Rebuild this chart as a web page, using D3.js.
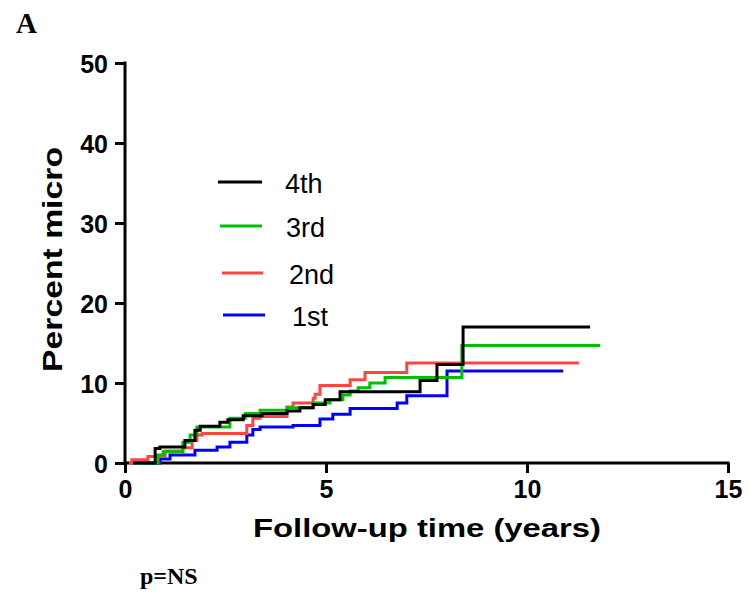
<!DOCTYPE html>
<html>
<head>
<meta charset="utf-8">
<script src="https://cdn.jsdelivr.net/npm/d3@7"></script>
<style>
  body { margin: 0; background: #fff; }
  svg text { font-family: "Liberation Sans", Arial, sans-serif; }
</style>
</head>
<body>
<svg id="chart" width="749" height="598"></svg>
<script>
// step curves: time (years) and percent after each step
const times4th = [0.2, 0.75, 0.87, 1.49, 1.74, 1.87, 2.36, 2.56, 2.94, 3.41, 4.03, 4.35, 4.68, 4.98, 5.35, 7.34, 7.76, 8.41, 11.57];
const vals4th  = [0, 1.8, 2.0, 2.8, 4.1, 4.6, 5.1, 5.4, 5.9, 6.2, 6.5, 6.9, 7.3, 7.9, 8.9, 10.3, 12.3, 17.0, 17.0];

const times3rd = [0.25, 0.82, 0.95, 1.44, 1.62, 1.79, 2.61, 2.99, 3.36, 4.03, 4.68, 5.1, 5.42, 5.6, 5.8, 6.09, 6.47, 8.38, 11.82];
const vals3rd  = [0, 1.0, 1.4, 2.6, 3.5, 4.5, 5.6, 6.2, 6.6, 6.9, 7.5, 7.9, 8.5, 9.0, 9.4, 10.0, 10.7, 14.7, 14.7];

const times2nd = [0.1, 0.17, 0.57, 1.0, 1.44, 1.67, 1.79, 1.92, 3.03, 3.18, 3.36, 4.03, 4.18, 4.68, 4.73, 4.85, 5.6, 5.97, 7.01, 11.29];
const vals2nd  = [0, 0.4, 0.8, 1.5, 1.9, 2.8, 3.5, 3.7, 4.7, 5.6, 5.8, 7.0, 7.5, 8.1, 8.6, 9.7, 10.4, 11.3, 12.5, 12.5];

const times1st = [0.42, 0.87, 1.12, 1.74, 2.29, 2.61, 3.03, 3.18, 3.36, 4.18, 4.85, 5.17, 5.6, 6.77, 7.01, 8.01, 10.9];
const vals1st  = [0, 0.5, 1.0, 1.6, 2.0, 2.6, 3.5, 4.2, 4.5, 4.7, 5.5, 6.1, 6.8, 7.5, 8.4, 11.5, 11.5];

const seriesNames  = ["4th", "3rd", "2nd", "1st"];
const seriesColors = ["#000000", "#00c000", "#ff4444", "#0000ff"];
const seriesTimes  = [times4th, times3rd, times2nd, times1st];
const seriesVals   = [vals4th, vals3rd, vals2nd, vals1st];

const xTicks = [0, 5, 10, 15];
const yTicks = [0, 10, 20, 30, 40, 50];

const svg = d3.select("#chart");

const x = d3.scaleLinear().domain([0, 15]).range([125, 728]);
const y = d3.scaleLinear().domain([0, 50]).range([463, 63]);

// axes
const xAxis = svg.append("g")
    .attr("transform", "translate(0,463)")
    .call(d3.axisBottom(x).tickValues(xTicks).tickSize(10).tickPadding(7).tickSizeOuter(0));
const yAxis = svg.append("g")
    .attr("transform", "translate(125,0)")
    .call(d3.axisLeft(y).tickValues(yTicks).tickSize(10).tickPadding(7).tickSizeOuter(0));

[xAxis, yAxis].forEach(a => {
    a.select(".domain").attr("stroke", "#000").attr("stroke-width", 3);
    a.selectAll(".tick line").attr("stroke", "#000").attr("stroke-width", 3);
    a.selectAll(".tick text")
        .attr("fill", "#000")
        .style("font-size", "25px")
        .style("font-weight", "bold")
        .style("font-family", "'Liberation Sans', Arial, sans-serif");
});
xAxis.selectAll(".tick text").attr("dy", "0.72em");
yAxis.selectAll(".tick text").attr("dy", "0.36em");
// stretch the axis lines over the tick width at the corners
xAxis.select(".domain").attr("d", "M" + (x(0) - 1.5) + ",0H" + (x(15) + 1.5));
yAxis.select(".domain").attr("d", "M0," + (y(0) + 1.5) + "V" + (y(50) - 1.5));

// curves
const line = d3.line()
    .x(d => x(d[0]))
    .y(d => y(d[1]))
    .curve(d3.curveStepAfter);

seriesNames.slice().reverse().forEach((name, k) => {
    const i = seriesNames.length - 1 - k;
    const pts = seriesTimes[i].map((t, j) => [t, seriesVals[i][j]]);
    svg.append("path")
        .datum(pts)
        .attr("d", line)
        .attr("fill", "none")
        .attr("stroke", seriesColors[i])
        .attr("stroke-width", 3);
});

// legend
const legendY = [182, 226, 273, 315];
const legendX = [[218, 262], [220, 262], [222, 263], [223, 265]];
const legendTextX = [285, 286, 289, 292];
seriesNames.forEach((name, i) => {
    svg.append("line")
        .attr("x1", legendX[i][0]).attr("x2", legendX[i][1])
        .attr("y1", legendY[i]).attr("y2", legendY[i])
        .attr("stroke", seriesColors[i]).attr("stroke-width", 3);
    svg.append("text")
        .attr("x", legendTextX[i])
        .attr("y", legendY[i] + 11)
        .style("font-size", "27px")
        .attr("fill", "#000")
        .text(name);
});

// axis titles
svg.append("text")
    .attr("x", 253).attr("y", 537)
    .attr("textLength", 348)
    .attr("lengthAdjust", "spacingAndGlyphs")
    .style("font-size", "26px")
    .style("font-weight", "bold")
    .text("Follow-up time (years)");

svg.append("text")
    .attr("transform", "translate(62,372) rotate(-90)")
    .attr("textLength", 225)
    .attr("lengthAdjust", "spacingAndGlyphs")
    .style("font-size", "28px")
    .style("font-weight", "bold")
    .text("Percent micro");

// panel letter and note
svg.append("text")
    .attr("x", 16).attr("y", 33)
    .style("font-family", "'Liberation Serif', 'Times New Roman', serif")
    .style("font-size", "29px")
    .style("font-weight", "bold")
    .text("A");

svg.append("text")
    .attr("x", 140).attr("y", 584)
    .style("font-family", "'Liberation Serif', 'Times New Roman', serif")
    .style("font-size", "24px")
    .style("font-weight", "bold")
    .text("p=NS");
</script>
</body>
</html>
